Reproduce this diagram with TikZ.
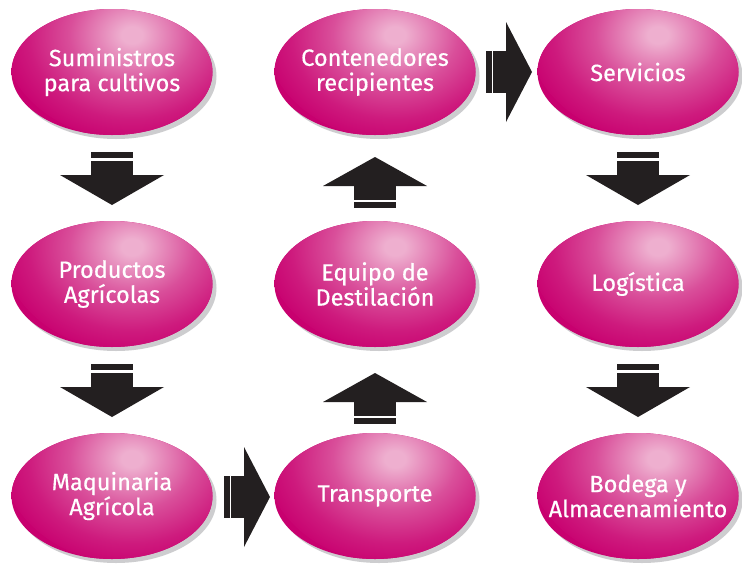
\documentclass[tikz,border=0pt]{standalone}
\usepackage{fontspec}
\setmainfont{Fira Sans}
\newfontfamily\lblfont{Fira Sans}[FakeBold=0.5]
\usetikzlibrary{shapes.geometric,shadows,calc}
\definecolor{mag}{HTML}{C8006F}
\definecolor{hi}{HTML}{EEAFCF}
\definecolor{arr}{HTML}{231F20}
\definecolor{shd}{HTML}{CDCDCF}
\pgfdeclareradialshading{hilite}{\pgfpointorigin}{color(0bp)=(hi); color(2bp)=(hi); color(12bp)=(mag!55!hi); color(20bp)=(mag!85!hi); color(26bp)=(mag); color(50bp)=(mag)}
\tikzset{
  ball/.style={ellipse, minimum width=201pt, minimum height=126pt, inner sep=0pt,
    fill=mag,
    path picture={\shade[shading=hilite] ($(path picture bounding box.center)+(20,37)$) ellipse [x radius=130, y radius=105];},
    drop shadow={shadow xshift=4pt, shadow yshift=-4pt, fill=shd, opacity=1}},
  lbl/.style={text=white, align=center, inner sep=0pt,
    font=\lblfont\fontsize{23.5}{25}\selectfont},
  blk/.style={fill=arr, draw=none}
}
\newcommand\downarr[1]{%
  \fill[blk] (#1) ++(-21,0) rectangle ++(42,-6);
  \fill[blk] (#1) ++(-21,-9) rectangle ++(42,-14);
  \fill[blk] (#1) ++(-52,-23) -- ++(104,0) -- ++(-52,-30) -- cycle;}
\newcommand\uparr[1]{%
  \fill[blk] (#1) -- ++(52,-29) -- ++(-104,0) -- cycle;
  \fill[blk] (#1) ++(-21,-29) rectangle ++(42,-14);
  \fill[blk] (#1) ++(-21,-45) rectangle ++(42,-6);}
\newcommand\rightarr[1]{%
  \fill[blk] (#1) -- ++(-26,50) -- ++(0,-100) -- cycle;
  \fill[blk] (#1) ++(-39,-21) rectangle ++(13,42);
  \fill[blk] (#1) ++(-46,-21) rectangle ++(6,42);}
\begin{document}
\begin{tikzpicture}[x=1pt,y=1pt]
\useasboundingbox[fill=white] (0,0) rectangle (742,-574);
\node[ball] (s1) at (112,-72)  {};
\node[ball] (p1) at (112,-284) {};
\node[ball] (m1) at (112,-496) {};
\node[ball] (c2) at (375,-72)  {};
\node[ball] (e2) at (375,-284) {};
\node[ball] (t2) at (375,-496) {};
\node[ball] (s3) at (638,-72)  {};
\node[ball] (l3) at (638,-284) {};
\node[ball] (b3) at (638,-496) {};
\node[lbl] (s1t) at (s1) {Suministros\\para cultivos};
\node[lbl] (p1t) at (p1) {Productos\\Agrícolas};
\node[lbl] (m1t) at (m1) {Maquinaria\\Agrícola};
\node[lbl] (c2t) at (c2) {Contenedores\\recipientes};
\node[lbl] (e2t) at (e2) {Equipo de\\Destilación};
\node[lbl] (t2t) at (t2) {Transporte};
\node[lbl] (s3t) at (s3) {Servicios};
\node[lbl] (l3t) at (l3) {Logística};
\node[lbl] (b3t) at (b3) {Bodega y\\Almacenamiento};
\coordinate (a1) at (112,-152);
\coordinate (a2) at (112,-364);
\coordinate (a3) at (638,-152);
\coordinate (a4) at (638,-364);
\coordinate (u1) at (375,-157);
\coordinate (u2) at (375,-373);
\coordinate (r1) at (532,-72);
\coordinate (r2) at (270,-497);
\downarr{a1}
\downarr{a2}
\downarr{a3}
\downarr{a4}
\uparr{u1}
\uparr{u2}
\rightarr{r1}
\rightarr{r2}
\end{tikzpicture}
\end{document}
